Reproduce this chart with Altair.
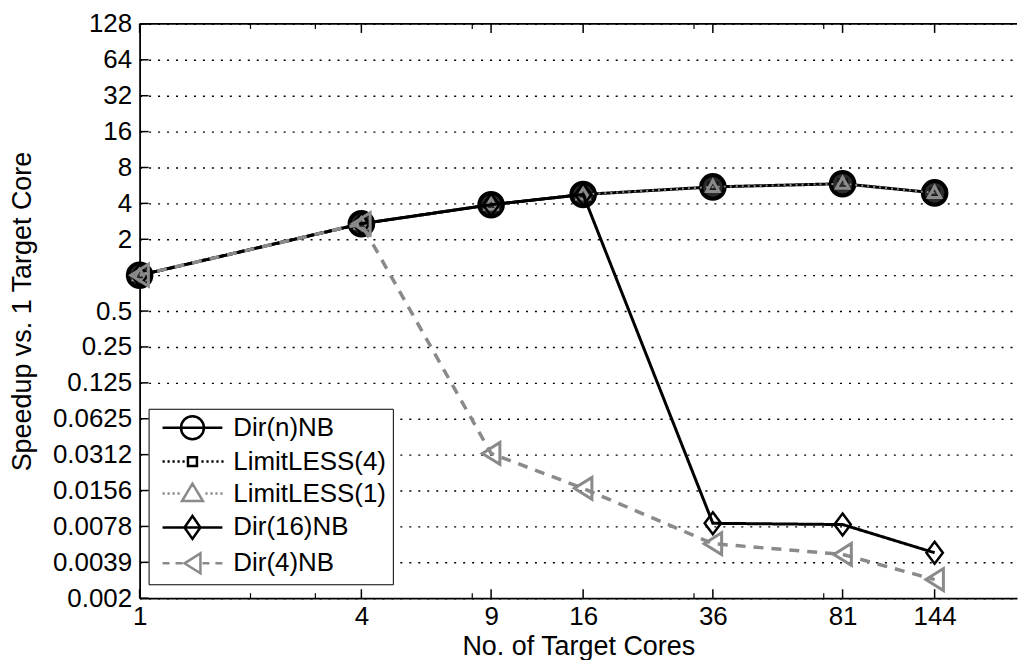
import altair as alt
import pandas as pd

# ---------------- data ----------------
cores = [1, 4, 9, 16, 36, 81, 144]
series_names = ["Dir(n)NB", "LimitLESS(4)", "LimitLESS(1)", "Dir(16)NB", "Dir(4)NB"]
dirn_nb = [1.0, 2.7, 3.9, 4.75, 5.5, 5.85, 4.9]
limitless4 = [1.0, 2.7, 3.9, 4.75, 5.5, 5.85, 4.9]
limitless1 = [1.0, 2.7, 3.9, 4.75, 5.5, 5.85, 4.9]
dir16_nb = [1.0, 2.7, 3.9, 4.75, 0.0083, 0.0081, 0.0047]
dir4_nb = [1.0, 2.7, 0.032, 0.0163, 0.0056, 0.00455, 0.0028]

y_tick_values = [128, 64, 32, 16, 8, 4, 2, 1, 0.5, 0.25, 0.125, 0.0625,
                 0.03125, 0.015625, 0.0078125, 0.00390625, 0.001953125]
y_tick_labels = ["128", "64", "32", "16", "8", "4", "2", "", "0.5", "0.25",
                 "0.125", "0.0625", "0.0312", "0.0156", "0.0078", "0.0039", "0.002"]
x_minor_ticks = [2, 3, 8, 32, 72]

all_values = [dirn_nb, limitless4, limitless1, dir16_nb, dir4_nb]
rows = []
for name, vals in zip(series_names, all_values):
    for c, v in zip(cores, vals):
        rows.append({"series": name, "cores": c, "speedup": v})
df = pd.DataFrame(rows)

# ---------------- styles ----------------
FONT = "Liberation Sans"
W, H = 880, 576
GRAY = "#8a8a8a"

styles = {
    "Dir(n)NB": dict(color="black", dash=[1, 0], lw=3,
                     shape="circle", size=560, fill="#2b2b2b", stroke="black", sw=4),
    "LimitLESS(4)": dict(color="black", dash=[2, 4], lw=2,
                         shape="square", size=64, fill="transparent", stroke="#111", sw=3),
    "LimitLESS(1)": dict(color=GRAY, dash=[2, 4], lw=2,
                         shape="M0,-1L0.95,0.7L-0.95,0.7Z", size=170, fill="transparent", stroke=GRAY, sw=3),
    "Dir(16)NB": dict(color="black", dash=[1, 0], lw=3,
                      shape="M0,-1L0.75,0L0,1L-0.75,0Z", size=484, fill="transparent", stroke="black", sw=2.5),
    "Dir(4)NB": dict(color=GRAY, dash=[10, 8], lw=3.5,
                     shape="M-0.8,0L0.8,-1L0.8,1Z", size=484, fill="transparent", stroke=GRAY, sw=3),
}


def dots(x0, x1, step=0.5, ln=0.22):
    parts = []
    x = x0
    while x <= x1 + 1e-9:
        parts.append(f"M{x:.2f},0h{ln}")
        x += step
    return "".join(parts)


legend_paths = [
    "M-3,0H3M1.15,0A1.15,1.15 0 1,1 -1.15,0A1.15,1.15 0 1,1 1.15,0Z",
    dots(-3, -1.0) + dots(0.9, 2.9) + "M-0.45,-0.45h0.9v0.9h-0.9Z",
    dots(-3, -1.4) + dots(1.3, 2.9) + "M0,-1L1.05,0.75L-1.05,0.75Z",
    "M-3,0H3M0,-1.15L0.8,0L0,1.15L-0.8,0Z",
    "M-3,0H-2.3M-1.7,0H-1M1,0H1.7M2.3,0H3M-0.8,0L0.8,-1L0.8,1Z",
]
legend_colors = ["black", "black", GRAY, "black", GRAY]

y_expr = " : ".join(f"datum.value == {v} ? '{lab}'" for v, lab in zip(y_tick_values, y_tick_labels)) + " : ''"

X = alt.X("cores:Q",
          scale=alt.Scale(type="log", domain=[1, 241], nice=False),
          axis=alt.Axis(values=cores, format="d", title="No. of Target Cores",
                        labelFlush=False, labelOverlap=False, labelPadding=5,
                        titlePadding=4, grid=False))
Y = alt.Y("speedup:Q",
          scale=alt.Scale(type="log", base=2, domain=[0.001953125, 128], nice=False),
          axis=alt.Axis(values=y_tick_values, labelExpr=y_expr,
                        title="Speedup vs. 1 Target Core",
                        labelFlush=False, labelOverlap=False, labelPadding=8,
                        titlePadding=16, grid=True, gridDash=[2, 7],
                        gridColor="black", gridWidth=1.4))

base = alt.Chart(df)
layers = []
for name in series_names:
    s = styles[name]
    sub = base.transform_filter(alt.datum.series == name)
    layers.append(sub.mark_line(color=s["color"], strokeDash=s["dash"],
                                strokeWidth=s["lw"]).encode(x=X, y=Y))
    layers.append(sub.mark_point(shape=s["shape"], size=s["size"], filled=True,
                                 fill=s["fill"], stroke=s["stroke"],
                                 strokeWidth=s["sw"], opacity=1).encode(x=X, y=Y))

legend = alt.Legend(title=None, orient="none", legendX=9, legendY=386,
                    fillColor="white", strokeColor="black", padding=6,
                    labelFont=FONT, labelFontSize=26, labelColor="black",
                    symbolSize=400, symbolStrokeWidth=2.5, symbolOffset=25,
                    labelOffset=28, rowPadding=4)
legend_layer = base.transform_filter("false").mark_point(
    filled=False, size=400, strokeWidth=2.5, opacity=1).encode(
    x=X, y=Y,
    color=alt.Color("series:N", scale=alt.Scale(domain=series_names, range=legend_colors), legend=legend),
    shape=alt.Shape("series:N", scale=alt.Scale(domain=series_names, range=legend_paths), legend=legend),
)

# inward ticks
ytick_df = pd.DataFrame({"speedup": y_tick_values})
xtick_df = pd.DataFrame({"cores": cores})
xminor_df = pd.DataFrame({"cores": x_minor_ticks})
border_df = pd.DataFrame({"k": [0]})

tick_layers = [
    alt.Chart(ytick_df).mark_rule(color="black", strokeWidth=1.5).encode(
        y=Y, x=alt.value(0), x2=alt.value(9)),
    alt.Chart(xtick_df).mark_rule(color="black", strokeWidth=1.5).encode(
        x=X, y=alt.value(H), y2=alt.value(H - 9)),
    alt.Chart(xtick_df).mark_rule(color="black", strokeWidth=1.5).encode(
        x=X, y=alt.value(0), y2=alt.value(9)),
    alt.Chart(xminor_df).mark_rule(color="black", strokeWidth=1.2).encode(
        x=X, y=alt.value(H), y2=alt.value(H - 5)),
    alt.Chart(xminor_df).mark_rule(color="black", strokeWidth=1.2).encode(
        x=X, y=alt.value(0), y2=alt.value(5)),
    alt.Chart(border_df).mark_rule(color="black", strokeWidth=1.8).encode(
        x=alt.value(0), x2=alt.value(W), y=alt.value(0)),
]

chart = alt.layer(*tick_layers, *layers, legend_layer).properties(
    width=W, height=H,
    padding={"left": 0, "right": 0, "top": 2, "bottom": 0},
).configure_view(stroke=None).configure_axis(
    labelFont=FONT, titleFont=FONT, labelColor="black", titleColor="black",
    labelFontSize=26, titleFontSize=27, titleFontWeight="normal",
    domainColor="black", domainWidth=1.8, ticks=False, tickSize=0,
)

chart.save("out.html", embed_options={"renderer": "svg", "actions": False})
